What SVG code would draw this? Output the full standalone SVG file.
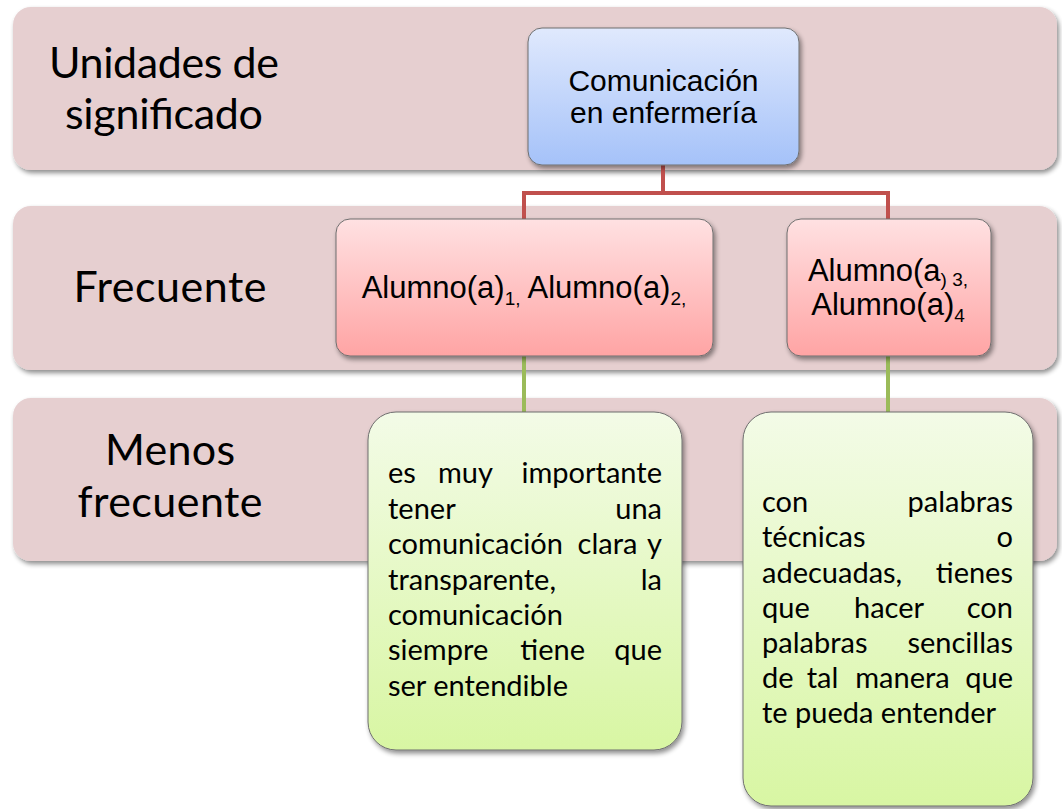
<svg xmlns="http://www.w3.org/2000/svg" width="1062" height="809" viewBox="0 0 1062 809">
<defs>
<filter id="sh" x="-10%" y="-10%" width="120%" height="130%">
<feGaussianBlur in="SourceAlpha" stdDeviation="2.5"/>
<feOffset dx="2" dy="3" result="b"/>
<feComponentTransfer><feFuncA type="linear" slope="0.45"/></feComponentTransfer>
<feMerge><feMergeNode/><feMergeNode in="SourceGraphic"/></feMerge>
</filter>
<linearGradient id="gBlue" x1="0" y1="0" x2="0" y2="1"><stop offset="0" stop-color="#E0E9FD"/><stop offset="1" stop-color="#A5C2F9"/></linearGradient>
<linearGradient id="gPink" x1="0" y1="0" x2="0" y2="1"><stop offset="0" stop-color="#FFE1E2"/><stop offset="1" stop-color="#FFA4A4"/></linearGradient>
<linearGradient id="gGreen" x1="0" y1="0" x2="0" y2="1"><stop offset="0" stop-color="#F3FBE7"/><stop offset="1" stop-color="#D8F6A3"/></linearGradient>
</defs>
<style>
.band{fill:#E6CFD0;filter:url(#sh)}
.node{stroke:#6F6F6F;stroke-width:1;filter:url(#sh)}
.lbl{font-family:Lato,"Liberation Sans",sans-serif;font-size:43px;fill:#000;text-anchor:middle}
.ar{font-family:"Liberation Sans",Arial,sans-serif;font-size:30px;fill:#000;text-anchor:middle}
.ar31{font-size:31px}
.sub{font-size:19px}
.gt{font-family:Lato,"Liberation Sans",sans-serif;font-size:29px;fill:#000}
.e{text-anchor:end}
.m{text-anchor:middle}
.red{fill:none;stroke:#C0504D;stroke-width:4}
.grn{fill:none;stroke:#9BBB59;stroke-width:4}
</style>

<g id="band-unidades">
<rect class="band" x="13" y="7" width="1044" height="163" rx="18"/>
<text class="lbl" x="164" y="78" textLength="230">Unidades de</text>
<text class="lbl" x="164" y="129" textLength="198">significado</text>
</g>
<g id="band-frecuente">
<rect class="band" x="13" y="206" width="1044" height="164" rx="18"/>
<text class="lbl" x="170" y="302" textLength="193">Frecuente</text>
</g>
<g id="band-menos">
<rect class="band" x="13" y="398" width="1044" height="163" rx="18"/>
<text class="lbl" x="170" y="465" textLength="130">Menos</text>
<text class="lbl" x="170" y="517" textLength="185">frecuente</text>
</g>

<g id="connectors">
<path class="red" d="M663 165 V193 M524 219 V193 H888 V219"/>
<path class="grn" d="M524 356 V412 M888 356 V412"/>
</g>

<g id="node-comunicacion">
<rect class="node" x="528" y="28" width="271" height="137" rx="14" fill="url(#gBlue)"/>
<text class="ar" x="663.5" y="91">Comunicación</text>
<text class="ar" x="663.5" y="123">en enfermería</text>
</g>

<g id="node-alumno12">
<rect class="node" x="336" y="219" width="377" height="137" rx="14" fill="url(#gPink)"/>
<text class="ar ar31" x="524" y="298">Alumno(a)<tspan class="sub" dy="7">1,</tspan><tspan dy="-7"> Alumno(a)</tspan><tspan class="sub" dy="7">2,</tspan></text>
</g>

<g id="node-alumno34">
<rect class="node" x="787" y="219" width="204" height="137" rx="14" fill="url(#gPink)"/>
<text class="ar ar31" x="888" y="281">Alumno(a<tspan class="sub" dy="5">) 3,</tspan></text>
<text class="ar ar31" x="888" y="315">Alumno(a)<tspan class="sub" dy="7">4</tspan></text>
</g>

<g id="node-texto1">
<rect class="node" x="368" y="412" width="314" height="338" rx="28" fill="url(#gGreen)"/>
<text class="gt" x="388" y="483">es</text><text class="gt m" x="465.5" y="483">muy</text><text class="gt e" x="662" y="483">importante</text>
<text class="gt" x="388" y="518.5">tener</text><text class="gt e" x="662" y="518.5">una</text>
<text class="gt" x="388" y="554">comunicación</text><text class="gt m" x="607.5" y="554">clara</text><text class="gt e" x="662" y="554">y</text>
<text class="gt" x="388" y="589.5">transparente,</text><text class="gt e" x="662" y="589.5">la</text>
<text class="gt" x="388" y="625">comunicación</text>
<text class="gt" x="388" y="660">siempre</text><text class="gt m" x="552.7" y="660">tiene</text><text class="gt e" x="662" y="660">que</text>
<text class="gt" x="388" y="695.5">ser entendible</text>
</g>

<g id="node-texto2">
<rect class="node" x="743" y="412" width="290" height="394" rx="28" fill="url(#gGreen)"/>
<text class="gt" x="762" y="512">con</text><text class="gt e" x="1013" y="512">palabras</text>
<text class="gt" x="762" y="547">técnicas</text><text class="gt e" x="1013" y="547">o</text>
<text class="gt" x="762" y="582.5">adecuadas,</text><text class="gt e" x="1013" y="582.5">tienes</text>
<text class="gt" x="762" y="617.5">que</text><text class="gt m" x="889" y="617.5">hacer</text><text class="gt e" x="1013" y="617.5">con</text>
<text class="gt" x="762" y="653">palabras</text><text class="gt e" x="1013" y="653">sencillas</text>
<text class="gt" x="762" y="688">de</text><text class="gt m" x="822.5" y="688">tal</text><text class="gt m" x="902.5" y="688">manera</text><text class="gt e" x="1013" y="688">que</text>
<text class="gt" x="762" y="723">te pueda entender</text>
</g>
</svg>
